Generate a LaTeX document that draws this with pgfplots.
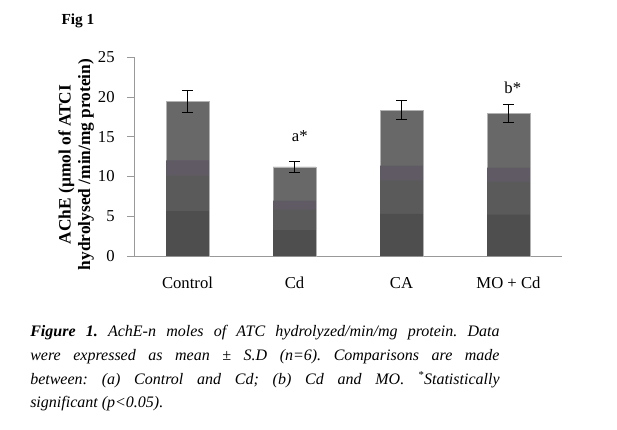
\documentclass[border=0pt]{standalone}
\usepackage{pgfplots}
\pgfplotsset{compat=1.18}
\usepackage{pgfplotstable}
\usepackage{fontspec}
\setmainfont{Liberation Serif}
\definecolor{barTop}{HTML}{686868}
\definecolor{barBand}{HTML}{5F5A64}
\definecolor{barMid}{HTML}{5A5A5A}
\definecolor{barBot}{HTML}{4E4E4E}
\definecolor{axgray}{HTML}{999999}
\pgfplotstableread{
x y err
0 19.4 1.4
1 11.2 0.7
2 18.3 1.2
3 17.9 1.1
}\achetable
\begin{document}
\begin{tikzpicture}
\path (0pt,0pt) rectangle (462.75pt,321.75pt);
\begin{axis}[
  at={(100.5pt,129.75pt)}, anchor=south west,
  scale only axis, width=321pt, height=149.25pt,
  xmin=-0.5, xmax=3.5, ymin=0, ymax=25,
  axis lines*=left,
  axis line style={axgray, -},
  ytick={0,5,...,25},
  xtick={0,1,2,3},
  xticklabels={Control, Cd, CA, MO + Cd},
  x tick style={draw=none},
  y tick style={axgray, thin},
  tick align=outside,
  major tick length=5pt,
  extra x ticks={-0.5,0.5,1.5,2.5,3.5},
  extra x tick labels={},
  extra x tick style={tick style={axgray, thin, draw=axgray}, major tick length=5pt},
  tick label style={font=\fontsize{12.5}{14}\selectfont},
  /pgf/number format/assume math mode=true,
  xticklabel style={yshift=-7pt, text height=9pt, text depth=2pt},
  yticklabel style={xshift=-6pt},
  every axis y label/.style={at={(axis description cs:-0.135,0.46)}, rotate=90, anchor=center},
  ylabel={AChE (µmol of ATCI\\hydrolysed /min/mg protein)},
  ylabel style={align=center, font=\fontsize{13}{14.5}\selectfont\bfseries},
  bar width=0.4, ybar, bar shift=0pt,
  clip=false,
]
\addplot[fill=barTop, draw=gray!60, line width=0.4pt,
  error bars/.cd, y dir=both, y explicit,
  error bar style={black, line width=0.9pt},
  error mark options={rotate=90, mark size=4pt, line width=0.9pt, black}]
  table[x=x, y=y, y error=err] {\achetable};
\addplot[fill=barBand, draw=none] table[x=x, y expr=0.62*\thisrow{y}] {\achetable};
\addplot[fill=barMid, draw=none] table[x=x, y expr=0.52*\thisrow{y}] {\achetable};
\addplot[fill=barBot, draw=none] table[x=x, y expr=0.29*\thisrow{y}] {\achetable};
\node[font=\fontsize{12.5}{14}\selectfont] at (axis cs:1.05,15.0) {a*};
\node[font=\fontsize{12.5}{14}\selectfont] at (axis cs:3.04,21.1) {b*};
\end{axis}
\node[font=\fontsize{11.5}{13}\selectfont\bfseries] at (58.5pt,306pt) {Fig 1};
\node[anchor=north west, inner sep=0pt] at (22.5pt,78pt) {\parbox{352pt}{\frenchspacing\fontsize{12}{17.8}\selectfont\itshape
\textbf{Figure 1.} AchE-n moles of ATC hydrolyzed/min/mg protein. Data\linebreak
were expressed as mean ± S.D (n=6). Comparisons are made\linebreak
between: (a) Control and Cd; (b) Cd and MO. \textsuperscript{*}Statistically\linebreak
significant (p<0.05).}};
\end{tikzpicture}
\end{document}
